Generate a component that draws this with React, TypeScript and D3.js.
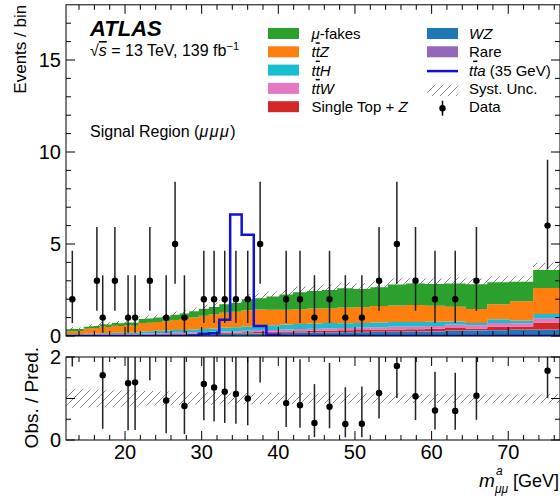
import React from 'react';
import * as d3 from 'd3';

// ---------- data ----------
const binEdges = [12.3, 12.85, 13.4, 14.0, 14.62, 15.28, 15.96, 16.7, 17.48, 18.27, 19.09, 19.95, 20.85, 21.78, 22.73, 23.75, 24.81, 25.93, 27.13, 28.37, 29.63, 30.94, 32.3, 33.72, 35.22, 36.8, 38.45, 40.15, 41.9, 43.76, 45.67, 47.69, 49.8, 52.0, 54.28, 56.65, 59.15, 61.73, 64.43, 67.26, 70.22, 73.25, 77.0];

const wzValues = [0.02, 0.02, 0.02, 0.02, 0.03, 0.03, 0.03, 0.03, 0.03, 0.04, 0.04, 0.04, 0.04, 0.05, 0.05, 0.06, 0.06, 0.07, 0.07, 0.08, 0.09, 0.10, 0.11, 0.12, 0.13, 0.14, 0.15, 0.16, 0.17, 0.18, 0.19, 0.20, 0.21, 0.22, 0.23, 0.24, 0.25, 0.28, 0.30, 0.31, 0.34, 0.33];
const rareValues = [0.01, 0.01, 0.01, 0.01, 0.01, 0.01, 0.01, 0.01, 0.01, 0.01, 0.01, 0.01, 0.01, 0.01, 0.01, 0.01, 0.01, 0.01, 0.01, 0.01, 0.01, 0.01, 0.01, 0.01, 0.02, 0.02, 0.02, 0.02, 0.02, 0.02, 0.02, 0.02, 0.02, 0.02, 0.02, 0.02, 0.02, 0.02, 0.02, 0.02, 0.02, 0.03];
const singleTopZValues = [0.01, 0.01, 0.01, 0.01, 0.01, 0.01, 0.01, 0.02, 0.02, 0.02, 0.02, 0.02, 0.02, 0.02, 0.02, 0.03, 0.03, 0.03, 0.03, 0.04, 0.04, 0.04, 0.05, 0.05, 0.05, 0.06, 0.06, 0.07, 0.07, 0.08, 0.08, 0.09, 0.09, 0.10, 0.11, 0.11, 0.12, 0.14, 0.09, 0.17, 0.15, 0.37];
const ttWValues = [0.02, 0.02, 0.02, 0.02, 0.03, 0.03, 0.03, 0.04, 0.04, 0.04, 0.04, 0.04, 0.04, 0.05, 0.05, 0.05, 0.06, 0.06, 0.06, 0.07, 0.07, 0.08, 0.08, 0.08, 0.09, 0.10, 0.10, 0.11, 0.12, 0.12, 0.13, 0.13, 0.14, 0.14, 0.15, 0.15, 0.16, 0.18, 0.18, 0.21, 0.18, 0.24];
const ttHValues = [0.03, 0.03, 0.03, 0.03, 0.04, 0.04, 0.05, 0.05, 0.05, 0.06, 0.06, 0.06, 0.06, 0.12, 0.13, 0.13, 0.14, 0.15, 0.15, 0.16, 0.17, 0.18, 0.20, 0.21, 0.23, 0.24, 0.25, 0.26, 0.27, 0.28, 0.28, 0.25, 0.24, 0.25, 0.25, 0.24, 0.22, 0.17, 0.12, 0.20, 0.15, 0.22];
const ttZValues = [0.16, 0.17, 0.17, 0.18, 0.28, 0.30, 0.31, 0.36, 0.34, 0.39, 0.38, 0.40, 0.39, 0.45, 0.46, 0.48, 0.50, 0.55, 0.60, 0.65, 0.72, 0.77, 0.82, 0.85, 0.88, 0.88, 0.85, 0.80, 0.80, 0.82, 0.80, 0.86, 0.86, 0.90, 0.90, 0.92, 0.88, 0.80, 0.76, 0.82, 1.05, 1.42];
const muFakesValues = [0.12, 0.14, 0.12, 0.11, 0.10, 0.11, 0.11, 0.13, 0.13, 0.14, 0.14, 0.16, 0.16, 0.22, 0.23, 0.24, 0.25, 0.28, 0.30, 0.34, 0.38, 0.40, 0.45, 0.48, 0.60, 0.61, 0.72, 0.83, 0.93, 0.95, 1.00, 1.05, 1.00, 1.02, 1.14, 1.17, 1.17, 1.27, 1.34, 1.19, 1.06, 0.98];
const systRelUnc = [0.22, 0.22, 0.22, 0.22, 0.21, 0.21, 0.21, 0.20, 0.20, 0.20, 0.19, 0.19, 0.19, 0.18, 0.18, 0.17, 0.17, 0.16, 0.16, 0.15, 0.15, 0.15, 0.14, 0.14, 0.14, 0.13, 0.13, 0.13, 0.13, 0.12, 0.12, 0.12, 0.12, 0.12, 0.12, 0.11, 0.11, 0.11, 0.11, 0.11, 0.11, 0.11];
const signalValues = [0, 0, 0, 0, 0, 0, 0, 0, 0, 0, 0, 0, 0, 0, 0, 0, 0, 0, 0, 0.03, 0.12, 0.15, 0.88, 6.6, 5.5, 0.55, 0.07, 0, 0, 0, 0, 0, 0, 0, 0, 0, 0, 0, 0, 0, 0, 0];

const dataBins = [1, 6, 7, 9, 11, 12, 14, 16, 17, 18, 20, 21, 22, 23, 24, 25, 27, 28, 29, 30, 31, 32, 33, 34, 35, 36, 37, 38, 41];
const dataCounts = [2, 3, 1, 3, 1, 1, 3, 1, 5, 1, 2, 2, 2, 2, 2, 5, 2, 2, 1, 2, 1, 1, 3, 5, 3, 2, 2, 3, 6];
const dataLow = [0.708, 1.367, 0.173, 1.367, 0.173, 0.173, 1.367, 0.173, 2.84, 0.173, 0.708, 0.708, 0.708, 0.708, 0.708, 2.84, 0.708, 0.708, 0.173, 0.708, 0.173, 0.173, 1.367, 2.84, 1.367, 0.708, 0.708, 1.367, 3.62];
const dataHigh = [4.638, 5.918, 3.3, 5.918, 3.3, 3.3, 5.918, 3.3, 8.382, 3.3, 4.638, 4.638, 4.638, 4.638, 4.638, 8.382, 4.638, 4.638, 3.3, 4.638, 3.3, 3.3, 5.918, 8.382, 5.918, 4.638, 4.638, 5.918, 9.584];

const xTickLabels = [20, 30, 40, 50, 60, 70];
const yTickLabels = [0, 5, 10, 15];
const ratioTickLabels = [0, 2];

const FONT = "'Liberation Sans', Arial, Helvetica, sans-serif";
const COLORS: Record<string, string> = {
  wz: '#1f77b4', rare: '#9467bd', stz: '#d62728', ttw: '#e377c2', tth: '#17becf', ttz: '#ff7f0e', fakes: '#2ca02c',
};
const SIGNAL = '#1212d6';

const Tbar = () => <tspan style={{ textDecoration: 'overline' }}>t</tspan>;

export default function App() {
  const L = 66, R = 560, T = 4.8, B = 336, RT = 357, RB = 440;
  const x = d3.scaleLinear().domain([12.3, 76.75]).range([L, R]);
  const y = d3.scaleLinear().domain([0, 18]).range([B, T]);
  const yr = d3.scaleLinear().domain([0, 2]).range([RB, RT]);
  const nBins = binEdges.length - 1;
  const keys = ['wz', 'rare', 'stz', 'ttw', 'tth', 'ttz', 'fakes'];
  const rows = d3.range(nBins).map(i => ({
    wz: wzValues[i], rare: rareValues[i], stz: singleTopZValues[i], ttw: ttWValues[i],
    tth: ttHValues[i], ttz: ttZValues[i], fakes: muFakesValues[i],
  }));
  const series = d3.stack<any>().keys(keys)(rows);
  const totals = rows.map((r: any) => keys.reduce((a, k) => a + r[k], 0));
  const idx = (i: number) => Math.min(i, nBins - 1);

  const stepArea = d3.area<{ e: number; lo: number; hi: number }>()
    .x(d => x(d.e)).curve(d3.curveStepAfter);
  const mainArea = (lo: number[], hi: number[]) =>
    stepArea.y0(d => y(d.lo)).y1(d => y(d.hi))(binEdges.map((e, i) => ({ e, lo: lo[idx(i)], hi: hi[idx(i)] }))) || '';
  const ratioArea = (lo: number[], hi: number[]) =>
    stepArea.y0(d => yr(d.lo)).y1(d => yr(d.hi))(binEdges.map((e, i) => ({ e, lo: lo[idx(i)], hi: hi[idx(i)] }))) || '';

  const signalPath = d3.line<{ e: number; v: number }>().x(d => x(d.e)).y(d => y(d.v)).curve(d3.curveStepAfter)(
    binEdges.map((e, i) => ({ e, v: signalValues[idx(i)] }))) || '';

  const bandLo = totals.map((t, i) => t * (1 - systRelUnc[i]));
  const bandHi = totals.map((t, i) => t * (1 + systRelUnc[i]));
  const rBandLo = systRelUnc.map(u => 1 - u);
  const rBandHi = systRelUnc.map(u => 1 + u);

  const center = (b: number) => (binEdges[b] + binEdges[b + 1]) / 2;

  const xMinor = d3.range(14, 77, 2).filter(v => v % 10 !== 0);
  const yMinor = d3.range(1, 18, 1).filter(v => v % 5 !== 0);
  const MAJ = 9, MIN = 5;

  const xTicks = (top: number, bottom: number) => (
    <g stroke="#000" strokeWidth={1}>
      {xTickLabels.map(v => (
        <g key={'M' + v}>
          <line x1={x(v)} x2={x(v)} y1={top} y2={top + MAJ} />
          <line x1={x(v)} x2={x(v)} y1={bottom} y2={bottom - MAJ} />
        </g>
      ))}
      {xMinor.map(v => (
        <g key={'m' + v}>
          <line x1={x(v)} x2={x(v)} y1={top} y2={top + MIN} />
          <line x1={x(v)} x2={x(v)} y1={bottom} y2={bottom - MIN} />
        </g>
      ))}
    </g>
  );

  const legendRowY = (i: number) => 33.5 + 18.3 * i;
  const c1x = 268, c2x = 427, sw = 31, sh = 11;
  const col1 = [
    { c: COLORS.fakes, label: <><tspan fontStyle="italic">μ</tspan>-fakes</> },
    { c: COLORS.ttz, label: <tspan fontStyle="italic">t<Tbar />Z</tspan> },
    { c: COLORS.tth, label: <tspan fontStyle="italic">t<Tbar />H</tspan> },
    { c: COLORS.ttw, label: <tspan fontStyle="italic">t<Tbar />W</tspan> },
    { c: COLORS.stz, label: <>Single Top + <tspan fontStyle="italic">Z</tspan></> },
  ];

  return (
    <svg width={560} height={498} style={{ position: 'absolute', left: 0, top: 0, background: '#fff' }}
      fontFamily={FONT}>
      <defs>
        <pattern id="hatch" patternUnits="userSpaceOnUse" width={8} height={8}>
          <path d="M-2,2 L2,-2 M0,8 L8,0 M6,10 L10,6" stroke="#8a8a8a" strokeWidth={1} />
        </pattern>
        <clipPath id="clipMain"><rect x={L} y={T} width={R - L} height={B - T} /></clipPath>
        <clipPath id="clipRatio"><rect x={L} y={RT} width={R - L} height={RB - RT} /></clipPath>
      </defs>
      <rect x={0} y={0} width={560} height={498} fill="#fff" />

      {/* main panel */}
      <g clipPath="url(#clipMain)">
        <path d={mainArea(bandLo, bandHi)} fill="url(#hatch)" />
        {series.map((s: any) => (
          <path key={s.key} d={mainArea(s.map((d: any) => d[0]), s.map((d: any) => d[1]))} fill={COLORS[s.key]} />
        ))}
        <path d={signalPath} fill="none" stroke={SIGNAL} strokeWidth={2.5} />
        {dataBins.map((b, i) => (
          <g key={i}>
            <line x1={x(center(b))} x2={x(center(b))} y1={y(dataLow[i])} y2={y(dataHigh[i])} stroke="#222" strokeWidth={1.5} />
            <circle cx={x(center(b))} cy={y(dataCounts[i])} r={3.2} fill="#000" />
          </g>
        ))}
      </g>
      <rect x={L} y={T} width={R - L} height={B - T} fill="none" stroke="#000" strokeWidth={1} />
      {xTicks(T, B)}
      <g stroke="#000" strokeWidth={1}>
        {yTickLabels.map(v => (
          <g key={'yM' + v}>
            <line x1={L} x2={L + MAJ} y1={y(v)} y2={y(v)} />
            <line x1={R} x2={R - MAJ} y1={y(v)} y2={y(v)} />
          </g>
        ))}
        {yMinor.map(v => (
          <g key={'ym' + v}>
            <line x1={L} x2={L + MIN} y1={y(v)} y2={y(v)} />
            <line x1={R} x2={R - MIN} y1={y(v)} y2={y(v)} />
          </g>
        ))}
      </g>
      {yTickLabels.map(v => (
        <text key={'yl' + v} x={L - 5} y={y(v) + 7} fontSize={20} textAnchor="end">{v}</text>
      ))}
      <text transform={`translate(25.5,${T}) rotate(-90)`} fontSize={17} textAnchor="end">Events / bin</text>

      {/* ATLAS label */}
      <text x={90} y={36} fontSize={22} fontWeight="bold" fontStyle="italic">ATLAS</text>
      <text x={90} y={56} fontSize={16}>√<tspan fontStyle="italic" style={{ textDecoration: 'overline' }}>s</tspan> = 13 TeV, 139 fb<tspan dy={-6} fontSize={11}>−1</tspan></text>
      <text x={90} y={137} fontSize={16}>Signal Region (<tspan fontStyle="italic" letterSpacing={1.5}>μμμ</tspan>)</text>

      {/* legend */}
      {col1.map((r, i) => (
        <g key={'l1' + i}>
          <rect x={c1x} y={legendRowY(i) - sh / 2} width={sw} height={sh} fill={r.c} />
          <text x={311.5} y={legendRowY(i) + 5.5} fontSize={15}>{r.label}</text>
        </g>
      ))}
      <rect x={c2x} y={legendRowY(0) - sh / 2} width={sw} height={sh} fill={COLORS.wz} />
      <text x={469} y={legendRowY(0) + 5.5} fontSize={15} fontStyle="italic">WZ</text>
      <rect x={c2x} y={legendRowY(1) - sh / 2} width={sw} height={sh} fill={COLORS.rare} />
      <text x={469} y={legendRowY(1) + 5.5} fontSize={15}>Rare</text>
      <line x1={c2x} x2={c2x + sw} y1={legendRowY(2) + 1} y2={legendRowY(2) + 1} stroke={SIGNAL} strokeWidth={2.5} />
      <text x={469} y={legendRowY(2) + 5.5} fontSize={15}><tspan fontStyle="italic">t<Tbar />a</tspan> (35 GeV)</text>
      <rect x={c2x} y={legendRowY(3) - sh / 2 + 2} width={sw} height={sh} fill="url(#hatch)" />
      <text x={469} y={legendRowY(3) + 5.5} fontSize={15}>Syst. Unc.</text>
      <line x1={c2x + sw / 2} x2={c2x + sw / 2} y1={legendRowY(4) - 6} y2={legendRowY(4) + 9} stroke="#000" strokeWidth={1.5} />
      <circle cx={c2x + sw / 2} cy={legendRowY(4) + 1.5} r={3.2} fill="#000" />
      <text x={469} y={legendRowY(4) + 5.5} fontSize={15}>Data</text>

      {/* ratio panel */}
      <g clipPath="url(#clipRatio)">
        <path d={ratioArea(rBandLo, rBandHi)} fill="url(#hatch)" />
        {dataBins.map((b, i) => {
          const t = totals[b];
          const r = dataCounts[i] / t;
          return (
            <g key={'r' + i}>
              <line x1={x(center(b))} x2={x(center(b))} y1={yr(dataLow[i] / t)} y2={yr(dataHigh[i] / t)} stroke="#222" strokeWidth={1.5} />
              {r <= 2 && <circle cx={x(center(b))} cy={yr(r)} r={3.2} fill="#000" />}
            </g>
          );
        })}
      </g>
      <rect x={L} y={RT} width={R - L} height={RB - RT} fill="none" stroke="#000" strokeWidth={1} />
      {xTicks(RT, RB)}
      <g stroke="#000" strokeWidth={1}>
        {[0, 1, 2].map(v => (
          <g key={'rM' + v}>
            <line x1={L} x2={L + MAJ} y1={yr(v)} y2={yr(v)} />
            <line x1={R} x2={R - MAJ} y1={yr(v)} y2={yr(v)} />
          </g>
        ))}
        {[0.5, 1.5].map(v => (
          <g key={'rm' + v}>
            <line x1={L} x2={L + MIN} y1={yr(v)} y2={yr(v)} />
            <line x1={R} x2={R - MIN} y1={yr(v)} y2={yr(v)} />
          </g>
        ))}
      </g>
      {ratioTickLabels.map(v => (
        <text key={'rl' + v} x={L - 5} y={yr(v) + 7} fontSize={20} textAnchor="end">{v}</text>
      ))}
      {xTickLabels.map(v => (
        <text key={'xl' + v} x={x(v)} y={459} fontSize={20} textAnchor="middle">{v}</text>
      ))}
      <text transform={`translate(38,${RT - 10}) rotate(-90)`} fontSize={19} textAnchor="end">Obs. / Pred.</text>

      {/* x-axis title */}
      <text x={479} y={487} fontSize={19} fontStyle="italic">m</text>
      <text x={496} y={475} fontSize={12} fontStyle="italic">a</text>
      <text x={495} y={493} fontSize={12} fontStyle="italic">μμ</text>
      <text x={559} y={487} fontSize={18} textAnchor="end">[GeV]</text>
    </svg>
  );
}
